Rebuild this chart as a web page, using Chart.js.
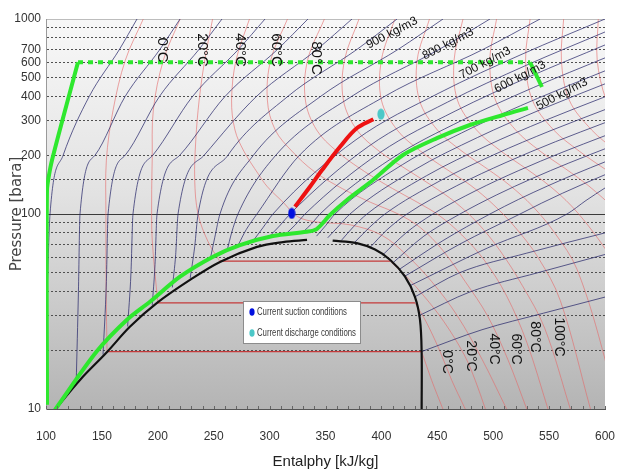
<!DOCTYPE html>
<html><head><meta charset="utf-8">
<script src="https://cdn.jsdelivr.net/npm/chart.js@4/dist/chart.umd.min.js"></script>
<style>
html,body{margin:0;padding:0;background:#fff;}
canvas{display:block;}
</style></head>
<body><canvas id="c" width="618" height="472"></canvas>
<script>
// ---------- DATA (enthalpy kJ/kg, pressure bara) ----------
const xTickLabels = [100,150,200,250,300,350,400,450,500,550,600];
const yTickLabels = [10,100,200,300,400,500,600,700,1000];

const domeLiquid = [[108.5,10],[130.4,14.1],[154.6,19.6],[175,26.4],[199.3,35],[228.8,45.9],[255.6,56.8],[288.7,67.8],[312,71.8],[333.5,73.6]];
const domeVapour = [[356.4,73],[378,70.9],[394.3,65.7],[407.7,58.3],[421,47.9],[430,37.6],[434.5,28.7],[436,19.5],[436,10]];

const cycleLeft = [[100.9,10.5],[100.9,133],[105.4,189],[128.6,600]];
const cycleTop = [[128.6,600],[533,600]];
const cycleRight = [[533,600],[543.6,448]];
const cycleLower = [[108,9.9],[145.3,19.7],[172.2,28.6],[193,35.5],[219.9,47.7],[249.4,60.4],[273.5,69.3],[303,77.1],[333.2,81.1],[342.1,83.7],[354,98.8],[369.2,118],[392.5,149.3],[419.3,200.7],[449.7,245],[479.2,286],[508.8,322],[531.1,350]];
const compression = [[322.7,109],[336.1,138],[346.9,168],[363,221],[377.9,275],[392.8,306]];
const suctionPoint = [[319.8,100.8]];
const dischargePoint = [[399.6,325]];
const legendText = ['Current suction conditions','Current discharge conditions'];

// isotherms (every 20 °C)
const isoT_m20 = [[187,1000],[171,616],[160,341],[154,189],[153.6,100],[153.8,40],[154.6,19.7]];
const isoT_m20v = [[436,19.7],[445,14],[455,10]];
const isoT_0 = [[220,1000],[205,616],[196,341],[195,190],[194.5,118],[195,73.6],[200,35]];
const isoT_0v = [[430,35],[440,28],[452,20],[463,14],[475,10]];
const isoT_20 = [[249,1000],[242,616],[237,384],[234,240],[233,150],[236,100],[245,72],[255.6,57]];
const isoT_20v = [[408,57],[422,48],[438,38],[456,28],[474,19],[484,14],[493,10]];
const isoT_40 = [[282,1000],[270,616],[266,384],[269,270],[277,210],[290,160],[298,138],[312,115],[325,97],[342,91],[372,88],[400,78],[422,62],[445,45],[468,30],[490,18],[512,10]];
const isoT_60 = [[316,1000],[301,616],[298,384],[305,270],[320,210],[340,165],[365,135],[390,115],[415,100],[435,85],[455,65],[475,45],[495,30],[513,18],[530,10]];
const isoT_80 = [[349,1000],[334,616],[332,384],[342,270],[360,210],[385,165],[410,135],[432,115],[452,98],[472,78],[492,58],[512,38],[530,22],[549,10]];
const isoT_100 = [[380,1000],[367,616],[366,384],[378,270],[398,210],[422,170],[445,140],[466,115],[486,90],[506,65],[526,43],[546,26],[569,10]];
const isoT_120 = [[412,1000],[400,616],[400,384],[414,270],[435,210],[458,170],[480,140],[500,112],[520,85],[540,60],[560,36],[587,10]];
const isoT_140 = [[443,1000],[432,616],[434,384],[450,270],[472,210],[495,170],[515,140],[535,110],[555,80],[575,52],[600,18],[605,12]];
const isoT_160 = [[473,1000],[465,616],[468,384],[485,270],[507,210],[530,170],[550,140],[570,110],[590,80],[610,55]];
const isoT_180 = [[503,1000],[497,616],[502,384],[520,270],[542,210],[565,170],[585,140],[610,105]];
const isoT_200 = [[533,1000],[529,616],[535,384],[554,270],[577,210],[600,170],[615,150]];
const isoT_220 = [[563,1000],[561,616],[568,384],[588,270],[610,210]];
const isoT_240 = [[594,1000],[593,616],[601,384],[612,300]];
const twoPhase_m20 = [[154.6,19.7],[436,19.7]];
const twoPhase_0 = [[199.3,35],[430,35]];
const twoPhase_20 = [[255.6,57.3],[407.7,57.3]];

// isochores (density lines)
const isoD01 = [[101,40],[103.6,100],[115.3,200],[138.6,400],[165.8,700],[181.4,1000]];
const isoD02 = [[127,13.5],[129,40],[130.4,100],[143.8,200],[170.7,400],[202,700],[219.9,1000]];
const isoD03 = [[151,19],[154,45],[155.5,100],[170.8,200],[201.4,400],[237,700],[257.4,1000]];
const isoD04 = [[173,26.5],[176,50],[177.8,100],[195.5,200],[231,400],[272.3,700],[295.9,1000]];
const isoD05 = [[195,34],[197.5,55],[199.3,100],[219.6,200],[260,400],[307.3,700],[334.3,1000]];
const isoD06 = [[213,42],[216,62],[218.1,100],[241.4,200],[288.1,400],[342.6,700],[373.7,1000]];
const isoD07 = [[229,47],[233,68],[236,100],[262.7,200],[316.1,400],[378.4,700],[414,1000]];
const isoD08 = [[247,59],[251,76],[255.6,100],[285.5,200],[345.4,400],[415.2,700],[455.1,1000]];
const isoD09 = [[262,65],[266,80],[271.7,100],[305.5,200],[373.1,400],[452,700],[497.1,1000]];
const isoD10 = [[272,69.5],[279,83],[288.7,100],[326.7,200],[402.6,400],[491.3,700],[541.9,1000]];
const isoD11 = [[285,72.5],[294,85],[303,100],[377.3,240.4],[451.5,417],[525.8,660],[600,1000]];
const isoD12 = [[300,77],[309,87],[318.2,100],[388.7,222.6],[459.1,374.6],[529.6,578.9],[600,858]];
const isoD13 = [[315,79.5],[323,88],[331.7,100],[398.8,206.5],[465.9,336.8],[533,507.7],[600,736]];
const isoD14 = [[330,81],[337.5,89],[345.1,100],[408.8,192.2],[472.6,303.3],[536.3,446],[600,632]];
const isoD15 = [[342,77],[350,87],[358.5,100],[418.9,179.2],[479.3,273.4],[539.6,391.5],[600,542]];
const isoD16 = [[352,75.5],[362,87],[371.9,100],[428.9,167.6],[486,246.8],[543,344],[600,465]];
const isoD17 = [[364,73],[375,86],[387.1,100],[440.3,157.1],[493.6,223.2],[546.8,302.5],[600,399]];
const isoD18 = [[376,71.5],[389,85],[403.2,100],[452.4,147.9],[501.6,202.5],[550.8,266.7],[600,343]];
const isoD19 = [[390,67.5],[405,83],[422.9,100],[467.2,139.4],[511.5,183.8],[555.7,234.8],[600,294]];
const isoD20 = [[401,61.5],[422,80],[446.1,100],[484.6,131.9],[523,167.2],[561.5,206.9],[600,252]];
const isoD21 = [[410,56],[438,77],[470.3,100],[502.7,125],[535.2,152.4],[567.6,182.5],[600,216]];
const isoD22 = [[416,52],[455,73],[497.1,100],[522.8,118.9],[548.6,139.2],[574.3,161.2],[600,185]];
const isoD23 = [[421,48],[470,70],[524,100],[543,113.5],[562,127.8],[581,142.9],[600,159]];
const isoD24 = [[426,43],[495,67],[566,100],[583,117.3],[600,136]];
const isoD25 = [[430,37.6],[470,50],[530,63],[600,80]];
const isoD26 = [[433,30],[480,40],[540,50],[600,62]];
const isoD27 = [[436,19.7],[490,25.5],[545,31],[600,37.5]];

// labels
const topTempText = ['0°C','20°C','40°C','60°C','80°C'];
const topTempAt = [[203.8,693],[239.5,693],[273.5,693],[305.7,693],[341.5,631]];
const lowTempText = ['0°C','20°C','40°C','60°C','80°C','100°C'];
const lowTempAt = [[458.7,17.4],[480.1,18.7],[500.7,20.3],[520.4,20.3],[537.4,23.4],[558.9,23.4]];
const densText = ['900 kg/m3','800 kg/m3','700 kg/m3','600 kg/m3','500 kg/m3'];
const densAt = [[409.5,848],[459.6,745],[492.7,595],[524,504],[561.5,412]];

// ---------- BUILD ----------
const xy = a => a.map(q => ({x:q[0], y:q[1]}));
const ds = [];
function line(arr, color, width, order, extra){
  ds.push(Object.assign({data:xy(arr), showLine:true, borderColor:color, backgroundColor:color, borderWidth:width, pointRadius:0, tension:0.35, fill:false, order:order}, extra||{}));
}
const isoTs = [isoT_m20,isoT_m20v,isoT_0,isoT_0v,isoT_20,isoT_20v,isoT_40,isoT_60,isoT_80,isoT_100,isoT_120,isoT_140,isoT_160,isoT_180,isoT_200,isoT_220,isoT_240];
isoTs.forEach(a => line(a,'rgba(228,105,105,0.6)',1,8));
[twoPhase_m20,twoPhase_0,twoPhase_20].forEach(a => line(a,'#c43a3a',1.2,7,{tension:0}));
const isoDs = [isoD01,isoD02,isoD03,isoD04,isoD05,isoD06,isoD07,isoD08,isoD09,isoD10,isoD11,isoD12,isoD13,isoD14,isoD15,isoD16,isoD17,isoD18,isoD19,isoD20,isoD21,isoD22,isoD23,isoD24,isoD25,isoD26,isoD27];
isoDs.forEach(a => line(a,'rgba(38,38,105,0.72)',1,6,{cubicInterpolationMode:'monotone'}));
line(domeLiquid,'#111',2.2,5);
line(domeVapour,'#111',2.2,5);
line(cycleLeft,'#2ee82e',4,3,{tension:0.2});
line(cycleTop,'#2ee82e',4,3,{tension:0,borderDash:[5,5]});
line(cycleRight,'#2ee82e',4,3,{tension:0});
line(cycleLower,'#2ee82e',4,3,{tension:0.3});
line(compression,'#ee1111',4,2);

const SUCTION_COLOR = '#0010e0', DISCHARGE_COLOR = '#4cc8c8';
function ellipse(color){
  const c = document.createElement('canvas'); c.width = 8; c.height = 12;
  const g = c.getContext('2d'); g.fillStyle = color; g.beginPath(); g.ellipse(4,6,3.6,5.6,0,0,Math.PI*2); g.fill();
  return c;
}
ds.push({label:legendText[0], data:xy(suctionPoint), pointStyle:ellipse(SUCTION_COLOR), pointRadius:6, showLine:false, order:0});
ds.push({label:legendText[1], data:xy(dischargePoint), pointStyle:ellipse(DISCHARGE_COLOR), pointRadius:6, showLine:false, order:0});

const SANS = "'Liberation Sans',Arial,sans-serif";

const bgPlugin = {
  id:'bg',
  beforeDraw(ch){
    const a = ch.chartArea, g = ch.ctx;
    const gr = g.createLinearGradient(0,a.top,0,a.bottom);
    gr.addColorStop(0,'#f8f8f8'); gr.addColorStop(0.45,'#e2e2e2'); gr.addColorStop(1,'#b4b4b4');
    g.save(); g.fillStyle = gr; g.fillRect(a.left,a.top,a.right-a.left,a.bottom-a.top); g.restore();
  }
};
const textPlugin = {
  id:'txt',
  afterDatasetsDraw(ch){
    const g = ch.ctx, sx = ch.scales.x, sy = ch.scales.y, a = ch.chartArea;
    g.save();
    g.fillStyle = '#111'; g.textAlign = 'center'; g.textBaseline = 'middle';
    const put = (t, at, rot, font) => {
      g.save(); g.translate(sx.getPixelForValue(at[0]), sy.getPixelForValue(at[1])); g.rotate(rot);
      g.font = font; g.fillText(t,0,0); g.restore();
    };
    topTempText.forEach((t,i) => put(t, topTempAt[i], Math.PI/2, "15px " + SANS));
    lowTempText.forEach((t,i) => put(t, lowTempAt[i], Math.PI/2, "14px " + SANS));
    densText.forEach((t,i) => put(t, densAt[i], -0.48, "12px " + SANS));
    // minor ticks on enthalpy axis
    g.strokeStyle = '#666'; g.lineWidth = 1;
    for (let v = 100; v <= 600; v += 10) {
      const px = Math.round(sx.getPixelForValue(v)) + 0.5;
      g.beginPath(); g.moveTo(px, a.bottom); g.lineTo(px, a.bottom - 3); g.stroke();
    }
    // legend box inside the plot
    const lx = a.left + 197, ly = a.top + 282, lw = 118, lh = 43;
    g.fillStyle = '#fff'; g.fillRect(lx, ly, lw, lh);
    g.strokeStyle = '#8c8c8c'; g.strokeRect(lx + 0.5, ly + 0.5, lw - 1, lh - 1);
    [SUCTION_COLOR, DISCHARGE_COLOR].forEach((col, i) => {
      const cy = ly + 11 + i * 21;
      g.fillStyle = col; g.beginPath(); g.ellipse(lx + 9, cy, 2.6, 3.8, 0, 0, Math.PI * 2); g.fill();
      g.save(); g.translate(lx + 14, cy); g.scale(0.74, 1);
      g.fillStyle = '#3a3a3a'; g.font = "10.5px " + SANS; g.textAlign = 'left'; g.textBaseline = 'middle';
      g.fillText(legendText[i], 0, 0.5); g.restore();
    });
    g.restore();
  }
};

new Chart(document.getElementById('c'), {
  type:'scatter',
  data:{datasets:ds},
  plugins:[bgPlugin,textPlugin],
  options:{
    responsive:false, animation:false, devicePixelRatio:1,
    layout:{padding:{top:19,right:13,left:0,bottom:0}},
    plugins:{legend:{display:false}, tooltip:{enabled:false}},
    scales:{
      x:{type:'linear', min:100, max:600,
        afterBuildTicks(s){ s.ticks = xTickLabels.map(v => ({value:v})); },
        ticks:{padding:12, color:'#333', font:{family:SANS, size:12}},
        grid:{display:false},
        border:{display:true, color:'#555', width:1},
        title:{display:true, text:'Entalphy [kJ/kg]', color:'#222', font:{family:SANS, size:15}, padding:{top:0,bottom:1}},
        afterFit(s){ s.height = 63; s.paddingLeft = 0; s.paddingRight = 0; }
      },
      y:{type:'logarithmic', min:10, max:1000,
        ticks:{autoSkip:false, padding:5, color:'#333', font:{family:SANS, size:12},
          callback:(v) => yTickLabels.includes(Math.round(v)) ? String(Math.round(v)) : ''},
        grid:{drawTicks:false, lineWidth:1,
          color:(c) => { const v = Math.round(c.tick.value); return v === 100 ? '#3a3a3a' : (v === 1000 ? '#bdbdbd' : '#505050'); }},
        border:{display:true, color:'#9a9a9a', dash:(c) => { const v = Math.round(c.tick.value); return (v === 100 || v === 1000 || v === 10) ? [] : [2,2]; }},
        title:{display:true, text:'Pressure [bara]', color:'#444', font:{family:"'DejaVu Sans',Verdana,sans-serif", size:15}, padding:{top:8,bottom:0}},
        afterFit(s){ s.width = 46; s.paddingTop = 0; s.paddingBottom = 0; }
      }
    }
  }
});
</script></body></html>
